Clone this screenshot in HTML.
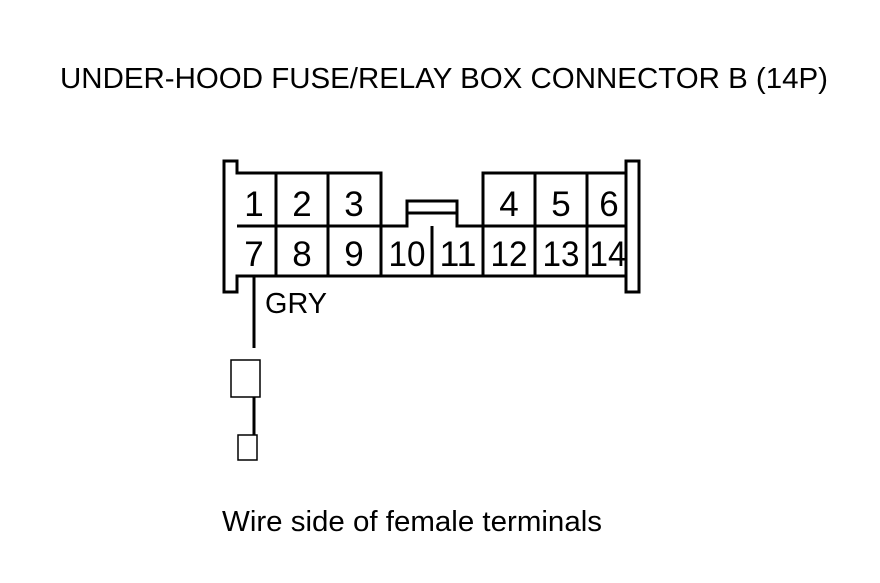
<!DOCTYPE html>
<html><head><style>
body{margin:0;background:#fff;}
svg text{font-family:"Liberation Sans",Arial,sans-serif;fill:#000;}
</style></head><body>
<svg width="880" height="578" viewBox="0 0 880 578" xmlns="http://www.w3.org/2000/svg">
<text x="60" y="88" font-size="29" textLength="768" lengthAdjust="spacingAndGlyphs">UNDER-HOOD FUSE/RELAY BOX CONNECTOR B (14P)</text>
<g fill="none" stroke="#000" stroke-width="3">
<path d="M237,276 V292 H224 V161 H237 V173 H381 V226 H407 V201 H457 V226 H483 V173 H626 V161 H639 V292 H626 V276 Z"/>
<line x1="407" y1="213" x2="457" y2="213"/>
<line x1="237" y1="226" x2="381" y2="226"/>
<line x1="483" y1="226" x2="626" y2="226"/>
<line x1="276" y1="173" x2="276" y2="276"/>
<line x1="328" y1="173" x2="328" y2="276"/>
<line x1="381" y1="173" x2="381" y2="276"/>
<line x1="432" y1="226" x2="432" y2="276"/>
<line x1="483" y1="173" x2="483" y2="276"/>
<line x1="535" y1="173" x2="535" y2="276"/>
<line x1="587" y1="173" x2="587" y2="276"/>
<line x1="626" y1="173" x2="626" y2="276"/>
<line x1="254" y1="276" x2="254" y2="348"/>
<line x1="254" y1="397" x2="254" y2="435"/>
</g>
<g fill="none" stroke="#000" stroke-width="1.5">
<rect x="231" y="360" width="29" height="37"/>
<rect x="238" y="435" width="19" height="25"/>
</g>
<g font-size="35" text-anchor="middle">
<text x="254" y="216">1</text><text x="302" y="216">2</text><text x="354" y="216">3</text>
<text x="509" y="216">4</text><text x="561" y="216">5</text><text x="609" y="216">6</text>
<text x="254" y="266">7</text><text x="302" y="266">8</text><text x="354" y="266">9</text>
<text x="407" y="266" textLength="37" lengthAdjust="spacingAndGlyphs">10</text><text x="458" y="266" textLength="37" lengthAdjust="spacingAndGlyphs">11</text><text x="509" y="266" textLength="37" lengthAdjust="spacingAndGlyphs">12</text>
<text x="561" y="266" textLength="37" lengthAdjust="spacingAndGlyphs">13</text><text x="608" y="266" textLength="37" lengthAdjust="spacingAndGlyphs">14</text>
</g>
<text x="265" y="313" font-size="29" textLength="62" lengthAdjust="spacingAndGlyphs">GRY</text>
<text x="222" y="531" font-size="29" textLength="380" lengthAdjust="spacingAndGlyphs">Wire side of female terminals</text>
</svg>
</body></html>
